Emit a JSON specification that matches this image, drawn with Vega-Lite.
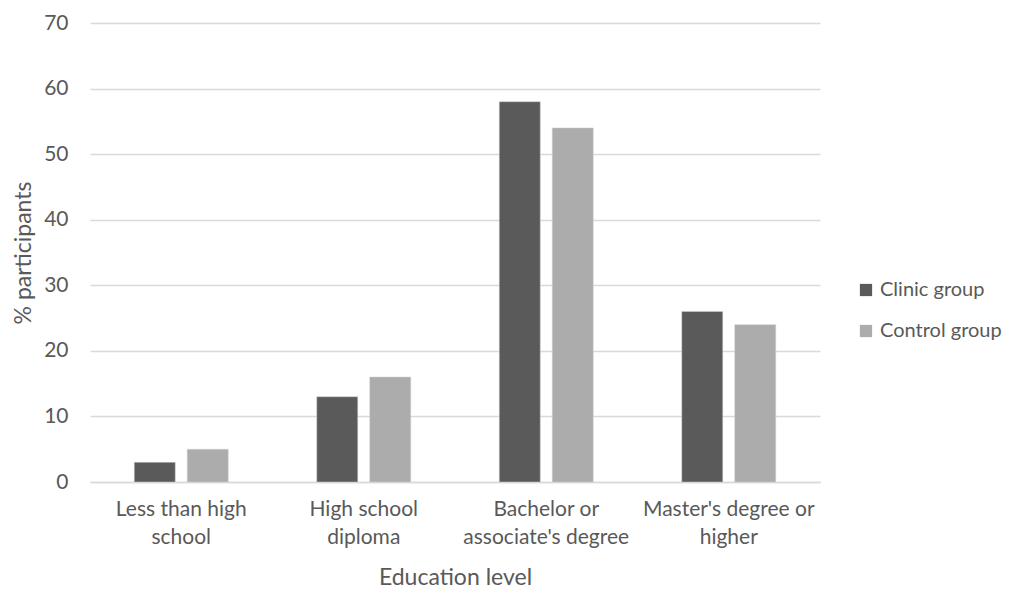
{
  "$schema": "https://vega.github.io/schema/vega-lite/v6.json",
  "autosize": "none",
  "width": 730,
  "height": 459,
  "padding": {"left": 90, "top": 23, "right": 196, "bottom": 110},
  "background": "white",
  "config": {
    "font": "Lato",
    "view": {"stroke": null}
  },
  "data": {
    "values": [
      {"education": "Less than high school", "group": "Clinic group", "pct": 3},
      {"education": "Less than high school", "group": "Control group", "pct": 5},
      {"education": "High school diploma", "group": "Clinic group", "pct": 13},
      {"education": "High school diploma", "group": "Control group", "pct": 16},
      {"education": "Bachelor or associate's degree", "group": "Clinic group", "pct": 58},
      {"education": "Bachelor or associate's degree", "group": "Control group", "pct": 54},
      {"education": "Master's degree or higher", "group": "Clinic group", "pct": 26},
      {"education": "Master's degree or higher", "group": "Control group", "pct": 24}
    ]
  },
  "mark": {"type": "bar", "stroke": "#d0d0d0", "strokeWidth": 0.5},
  "encoding": {
    "x": {
      "field": "education",
      "type": "nominal",
      "sort": ["Less than high school", "High school diploma", "Bachelor or associate's degree", "Master's degree or higher"],
      "scale": {"paddingInner": 0.485, "paddingOuter": 0.2425},
      "title": "Education level",
      "axis": {
        "labelAngle": 0,
        "labelExpr": "datum.value == 'Less than high school' ? ['Less than high', 'school'] : datum.value == 'High school diploma' ? ['High school', 'diploma'] : datum.value == \"Bachelor or associate's degree\" ? ['Bachelor or', \"associate's degree\"] : [\"Master's degree or\", 'higher']",
        "labelFontSize": 21,
        "labelColor": "#595959",
        "labelLineHeight": 28,
        "labelPadding": 16,
        "labelOverlap": false,
        "ticks": false,
        "domainColor": "#d9d9d9",
        "domainWidth": 1.5,
        "titleFontSize": 23,
        "titleFontWeight": "normal",
        "titleColor": "#595959",
        "titlePadding": 19
      }
    },
    "xOffset": {
      "field": "group",
      "type": "nominal",
      "scale": {"paddingInner": 0.226, "paddingOuter": 0}
    },
    "y": {
      "field": "pct",
      "type": "quantitative",
      "scale": {"domain": [0, 70]},
      "title": "% participants",
      "axis": {
        "values": [0, 10, 20, 30, 40, 50, 60, 70],
        "labelFontSize": 21,
        "labelColor": "#595959",
        "labelPadding": 22,
        "ticks": false,
        "domain": false,
        "gridColor": "#d9d9d9",
        "gridWidth": 1.5,
        "titleFontSize": 23,
        "titleFontWeight": "normal",
        "titleColor": "#595959",
        "titlePadding": 8
      }
    },
    "color": {
      "field": "group",
      "type": "nominal",
      "scale": {"domain": ["Clinic group", "Control group"], "range": ["#5a5a5a", "#acacac"]},
      "legend": {
        "title": null,
        "orient": "none",
        "legendX": 766,
        "legendY": 257,
        "symbolType": "square",
        "symbolSize": 150,
        "symbolStrokeWidth": 0,
        "labelFontSize": 20,
        "labelColor": "#595959",
        "labelOffset": 4,
        "rowPadding": 21
      }
    }
  }
}
